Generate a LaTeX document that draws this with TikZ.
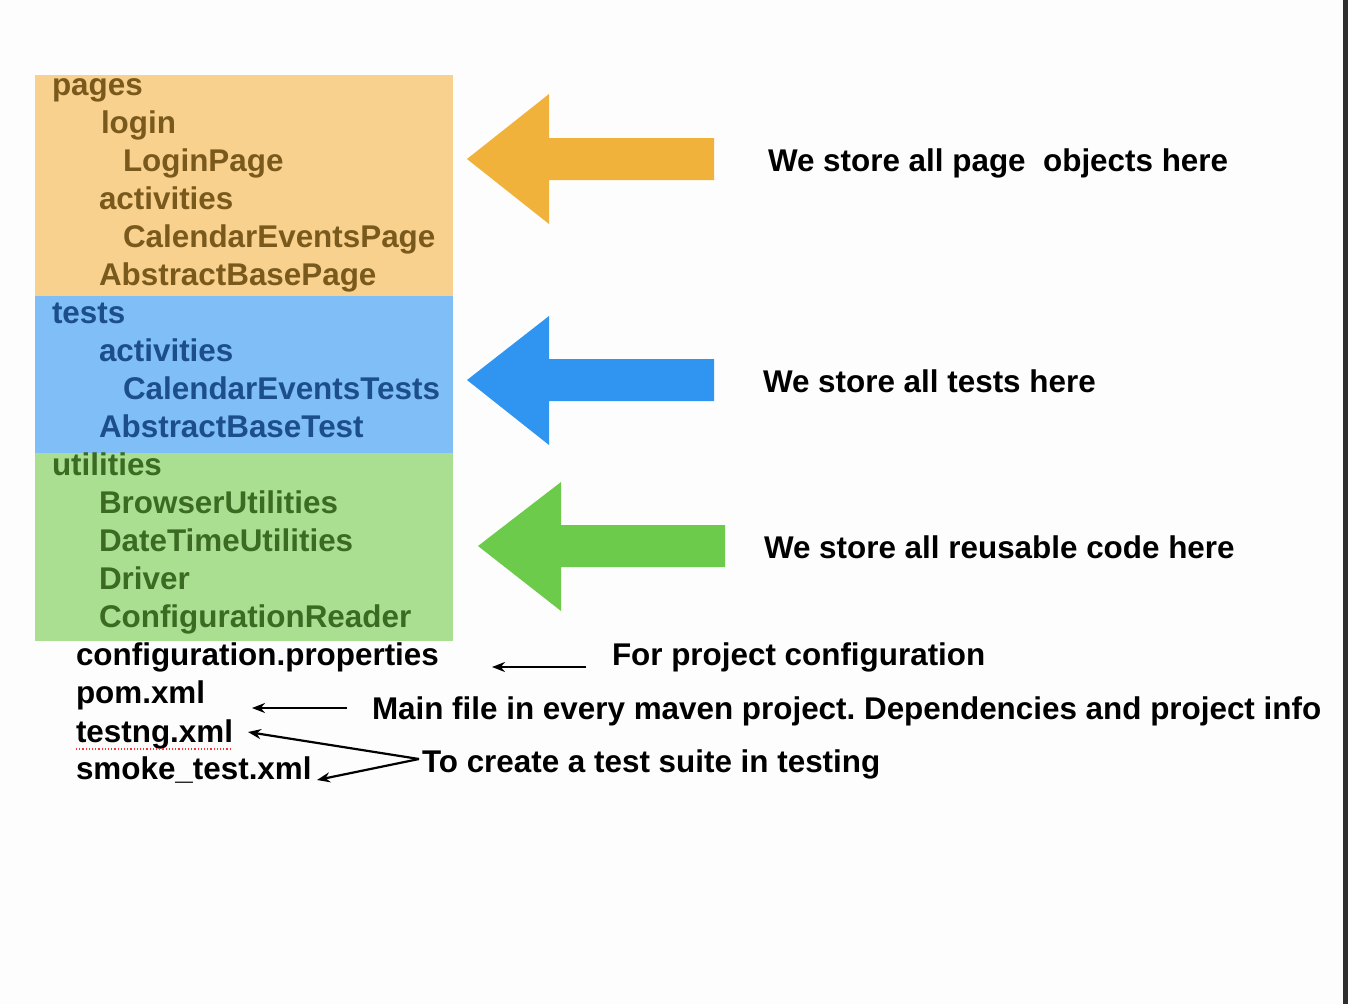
\documentclass[tikz,border=0pt]{standalone}
\usepackage{fontspec}
\setmainfont{Liberation Sans}
\usetikzlibrary{arrows.meta}
\definecolor{bgc}{HTML}{FDFDFD}
\definecolor{orbox}{HTML}{F8D18E}
\definecolor{blbox}{HTML}{80BEF8}
\definecolor{grbox}{HTML}{AADF92}
\definecolor{ortxt}{HTML}{7A5A1C}
\definecolor{bltxt}{HTML}{1B4E8A}
\definecolor{grtxt}{HTML}{3B6A22}
\definecolor{orarr}{HTML}{F0B23A}
\definecolor{blarr}{HTML}{2F95F0}
\definecolor{grarr}{HTML}{6CCB4B}
\definecolor{edge}{HTML}{2E2E2E}
\frenchspacing
\tikzset{
  lbl/.style={anchor=base west, inner sep=0pt, outer sep=0pt, font=\fontsize{31.4}{38}\selectfont\bfseries},
  otx/.style={lbl, text=ortxt},
  btx/.style={lbl, text=bltxt},
  gtx/.style={lbl, text=grtxt},
  ktx/.style={lbl, text=black},
  ptr/.style={draw=black, line width=2.2pt, -{Stealth[length=13pt,width=10pt]}}
}
\begin{document}
\begin{tikzpicture}[x=1pt,y=-1pt]
\useasboundingbox (0,0) rectangle (1348,1004);
\fill[bgc] (0,0) rectangle (1348,1004);
\fill[edge] (1343,0) rectangle (1348,1004);
% boxes
\fill[orbox] (35,75) rectangle (453,296);
\fill[blbox] (35,296) rectangle (453,453);
\fill[grbox] (35,453) rectangle (453,641);
% big arrows
\fill[orarr] (467,159) -- (549,94) -- (549,138) -- (714,138) -- (714,180) -- (549,180) -- (549,224) -- cycle;
\fill[blarr] (467,380) -- (549,316) -- (549,359) -- (714,359) -- (714,401) -- (549,401) -- (549,445) -- cycle;
\fill[grarr] (478,546) -- (561,482) -- (561,525) -- (725,525) -- (725,567) -- (561,567) -- (561,611) -- cycle;
% pages
\node[otx] (pages) at (52,95) {pages};
\node[otx] (login) at (101,133) {login};
\node[otx] (loginpage) at (123,171) {LoginPage};
\node[otx] (pact) at (99,209) {activities};
\node[otx] (calpage) at (123,247) {CalendarEventsPage};
\node[otx] (abspage) at (99,285) {AbstractBasePage};
% tests
\node[btx] (tests) at (52,323) {tests};
\node[btx] (tact) at (99,361) {activities};
\node[btx] (caltests) at (123,399) {CalendarEventsTests};
\node[btx] (abstest) at (99,437) {AbstractBaseTest};
% utilities
\node[gtx] (utils) at (52,475) {utilities};
\node[gtx] (browser) at (99,513) {BrowserUtilities};
\node[gtx] (datetime) at (99,551) {DateTimeUtilities};
\node[gtx] (driver) at (99,589) {Driver};
\node[gtx] (confreader) at (99,627) {ConfigurationReader};
% files
\node[ktx] (confprop) at (76,665) {configuration.properties};
\node[ktx] (pom) at (76,703) {pom.xml};
\node[ktx] (testng) at (76,742) {testng.xml};
\node[ktx] (smoke) at (76,779) {smoke\_test.xml};
\draw[red!80, line width=1.2pt, dotted] (76,749) -- (232,749);
% right labels
\node[ktx] (pagelbl) at (768,171) {We store all page \ objects here};
\node[ktx] (testlbl) at (763,392) {We store all tests here};
\node[ktx] (utillbl) at (764,558) {We store all reusable code here};
\node[ktx] (forlbl) at (612,665) {For project configuration};
\node[ktx] (mainlbl) at (372,719) {Main file in every maven project. Dependencies and project info};
\node[ktx] (tolbl) at (422,772) {To create a test suite in testing};
% pointer arrows
\coordinate (fa) at (586,667);
\coordinate (fb) at (492,667);
\coordinate (pa) at (347,708);
\coordinate (pb) at (252,708);
\coordinate (tj) at (419,759);
\coordinate (tb) at (248,732);
\coordinate (sb) at (317,780);
\draw[ptr] (fa) -- (fb);
\draw[ptr] (pa) -- (pb);
\draw[ptr] (tj) -- (tb);
\draw[ptr] (tj) -- (sb);
\end{tikzpicture}
\end{document}
